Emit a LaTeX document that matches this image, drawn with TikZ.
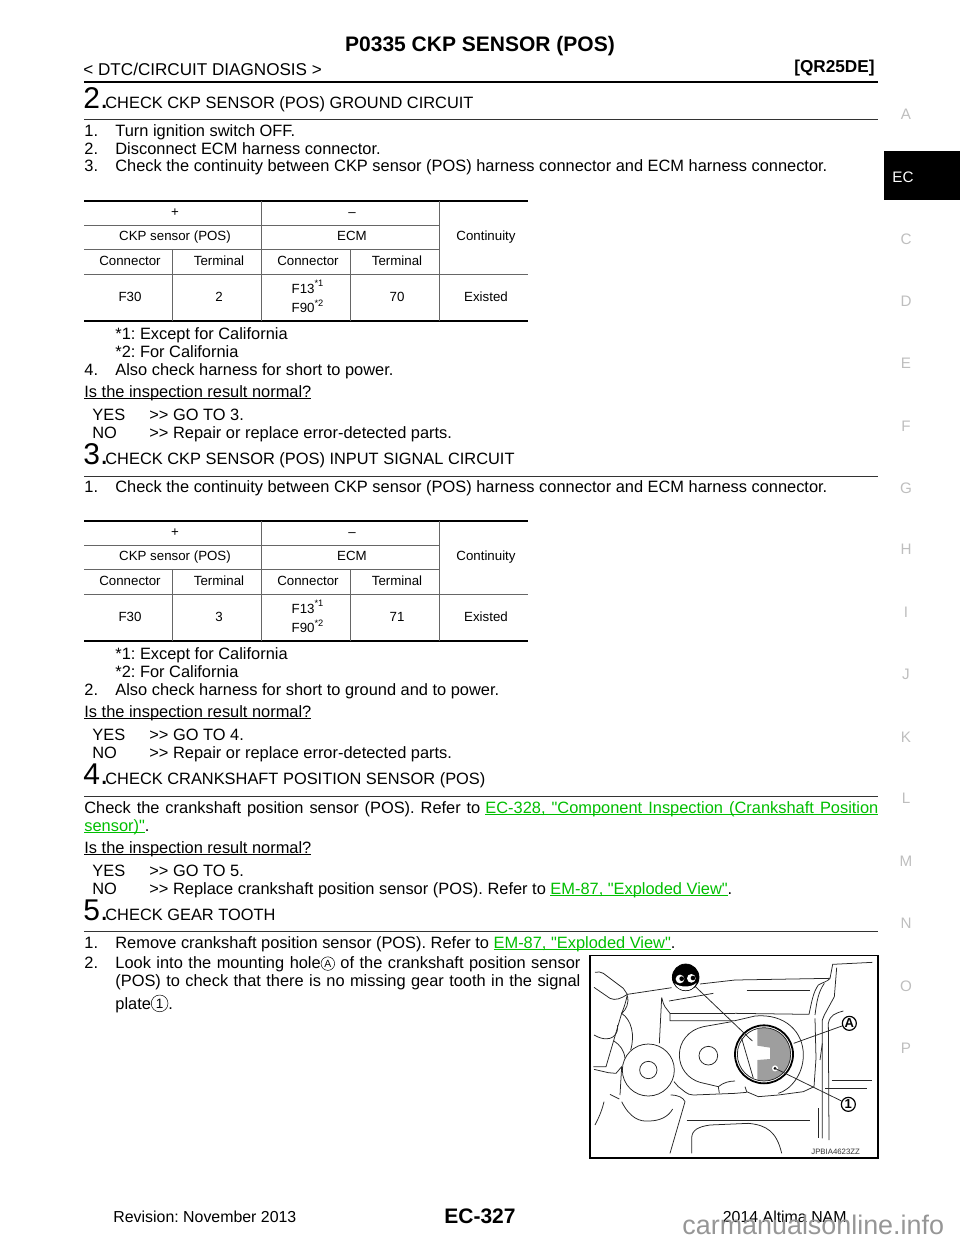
\documentclass[tikz,border=0pt]{standalone}
\usepackage{fontspec}
\setmainfont{Liberation Sans}[Ligatures=TeXOff]
\usetikzlibrary{positioning}
\definecolor{linkgreen}{RGB}{0,190,0}
\definecolor{marginletter}{RGB}{190,190,190}
\definecolor{webmark}{RGB}{150,150,150}
\tikzset{
  bodytext/.style={inner sep=0pt,anchor=base west,font=\fontsize{8.2}{9}\selectfont},
  celltext/.style={inner sep=0pt,anchor=base,font=\fontsize{6.65}{7.5}\selectfont},
  stepnum/.style={inner sep=0pt,anchor=base west,font=\fontsize{15}{15}\selectfont},
  steprule/.style={line width=0.5pt,black!80},
  thickrule/.style={line width=1pt},
  gridline/.style={line width=0.3pt,black!60},
  sketch/.style={line width=0.38pt,black!85},
  callout/.style={circle,draw,line width=0.6pt,fill=white,inner sep=0pt,minimum size=7pt,font=\fontsize{6.5}{7}\selectfont\bfseries},
  inlinemark/.style={circle,draw,anchor=center,line width=0.25pt,inner sep=0pt},
}
\newcommand{\undertext}[1]{\setbox0=\hbox{#1}\rlap{\rule[-0.75pt]{\wd0}{0.38pt}}\box0}
\newcommand{\linktext}[1]{\textcolor{linkgreen}{\undertext{#1}}}
\newcommand{\fitline}[2]{\makebox[#1][s]{#2}}
% continuity table, top left corner at (84,#1)
\newcommand{\contable}[5]{%
  \begin{scope}[yshift=-#1*0.5pt]
    \draw[thickrule] (84,0) -- (528,0);
    \draw[thickrule] (84,120) -- (528,120);
    \draw[gridline] (84,24) -- (439,24);
    \draw[gridline] (84,48) -- (439,48);
    \draw[gridline] (84,73) -- (528,73);
    \draw[gridline] (261,0) -- (261,120);
    \draw[gridline] (439,0) -- (439,120);
    \draw[gridline] (172,48) -- (172,120);
    \draw[gridline] (350,48) -- (350,120);
    \node[celltext] (#2plus) at (175,15) {+};
    \node[celltext] (#2minus) at (352,15) {\textendash};
    \node[celltext] (#2sensor) at (175,39) {CKP sensor (POS)};
    \node[celltext] (#2ecm) at (352,39) {ECM};
    \node[celltext] (#2cont) at (486,39) {Continuity};
    \node[celltext] (#2conna) at (130,64) {Connector};
    \node[celltext] (#2terma) at (219,64) {Terminal};
    \node[celltext] (#2connb) at (308,64) {Connector};
    \node[celltext] (#2termb) at (397,64) {Terminal};
    \node[celltext] (#2fthirty) at (130,100) {F30};
    \node[celltext] (#2pin) at (219,100) {#3};
    \node[celltext] (#2fthirteen) at (308,92) {F13\textsuperscript{*1}};
    \node[celltext] (#2fninety) at (308,111.5) {F90\textsuperscript{*2}};
    \node[celltext] (#2ecmpin) at (397,100) {#4};
    \node[celltext] (#2existed) at (486,100) {#5};
  \end{scope}}
\begin{document}
\frenchspacing
\begin{tikzpicture}[x=0.5pt,y=-0.5pt]
  \useasboundingbox (0,0) rectangle (960,1242);
  % page head
  \node[inner sep=0pt,anchor=base,font=\fontsize{10.5}{12}\selectfont\bfseries] (title) at (480,51) {P0335 CKP SENSOR (POS)};
  \node[inner sep=0pt,anchor=base west,font=\fontsize{8.55}{10}\selectfont] (section) at (83,75) {< DTC/CIRCUIT DIAGNOSIS >};
  \node[inner sep=0pt,anchor=base east,font=\fontsize{8.6}{10}\selectfont\bfseries] (engine) at (875,72) {[QR25DE]};
  \draw[line width=1.2pt] (84,82) -- (878,82);
  % margin index
  \fill[black] (884,151) rectangle (960,200);
  \node[inner sep=0pt,anchor=base west,font=\fontsize{7.6}{9}\selectfont,white] (tabec) at (892,182) {EC};
  \foreach \letter/\ypos in {A/119,C/244,D/306,E/368,F/431,G/493,H/554,I/617,J/679,K/742,L/803,M/866,N/928,O/991,P/1053}
    \node[inner sep=0pt,anchor=base,font=\fontsize{7.6}{9}\selectfont,marginletter] (tab\letter) at (906,\ypos) {\letter};

  % step 2
  \node[stepnum] (numtwo) at (83,108) {2.};
  \node[bodytext] (headtwo) at (105,108) {CHECK CKP SENSOR (POS) GROUND CIRCUIT};
  \draw[steprule] (84,119) -- (878,119);
  \node[bodytext] (twoa) at (84,136) {1.};
  \node[bodytext] (twoat) at (115,136) {Turn ignition switch OFF.};
  \node[bodytext] (twob) at (84,154) {2.};
  \node[bodytext] (twobt) at (115,154) {Disconnect ECM harness connector.};
  \node[bodytext] (twoc) at (84,171.5) {3.};
  \node[bodytext] (twoct) at (115,171.5) {Check the continuity between CKP sensor (POS) harness connector and ECM harness connector.};
  \contable{201}{ta}{2}{70}{Existed}
  \node[bodytext] (twonotea) at (115,339) {*1: Except for California};
  \node[bodytext] (twonoteb) at (115,357) {*2: For California};
  \node[bodytext] (twod) at (84,375) {4.};
  \node[bodytext] (twodt) at (115,375) {Also check harness for short to power.};
  \node[bodytext] (twoq) at (84,397.5) {\undertext{Is the inspection result normal?}};
  \node[bodytext] (twoyes) at (92,420) {YES};
  \node[bodytext] (twoyest) at (149,420) {>> GO TO 3.};
  \node[bodytext] (twono) at (92,438) {NO};
  \node[bodytext] (twonot) at (149,438) {>> Repair or replace error-detected parts.};

  % step 3
  \node[stepnum] (numthree) at (83,464) {3.};
  \node[bodytext] (headthree) at (105,464) {CHECK CKP SENSOR (POS) INPUT SIGNAL CIRCUIT};
  \draw[steprule] (84,476) -- (878,476);
  \node[bodytext] (threea) at (84,492) {1.};
  \node[bodytext] (threeat) at (115,492) {Check the continuity between CKP sensor (POS) harness connector and ECM harness connector.};
  \contable{521}{tb}{3}{71}{Existed}
  \node[bodytext] (threenotea) at (115,659) {*1: Except for California};
  \node[bodytext] (threenoteb) at (115,677) {*2: For California};
  \node[bodytext] (threeb) at (84,695) {2.};
  \node[bodytext] (threebt) at (115,695) {Also check harness for short to ground and to power.};
  \node[bodytext] (threeq) at (84,717.5) {\undertext{Is the inspection result normal?}};
  \node[bodytext] (threeyes) at (92,740) {YES};
  \node[bodytext] (threeyest) at (149,740) {>> GO TO 4.};
  \node[bodytext] (threeno) at (92,758.5) {NO};
  \node[bodytext] (threenot) at (149,758.5) {>> Repair or replace error-detected parts.};

  % step 4
  \node[stepnum] (numfour) at (83,784) {4.};
  \node[bodytext] (headfour) at (105,784) {CHECK CRANKSHAFT POSITION SENSOR (POS)};
  \draw[steprule] (84,796) -- (878,796);
  \node[bodytext] (fourt) at (84,813) {\fitline{198pt}{Check the crankshaft position sensor (POS). Refer to}};
  \node[bodytext] (fourl) at (485,813) {\linktext{\fitline{196.5pt}{EC-328, "Component Inspection (Crankshaft Position}}};
  \node[bodytext] (fourm) at (84,831) {\linktext{sensor)"}.};
  \node[bodytext] (fourq) at (84,853) {\undertext{Is the inspection result normal?}};
  \node[bodytext] (fouryes) at (92,876) {YES};
  \node[bodytext] (fouryest) at (149,876) {>> GO TO 5.};
  \node[bodytext] (fourno) at (92,894) {NO};
  \node[bodytext] (fournot) at (149,894) {>> Replace crankshaft position sensor (POS). Refer to \linktext{EM-87, "Exploded View"}.};

  % step 5
  \node[stepnum] (numfive) at (83,920) {5.};
  \node[bodytext] (headfive) at (105,920) {CHECK GEAR TOOTH};
  \draw[steprule] (84,931) -- (878,931);
  \node[bodytext] (fivea) at (84,948) {1.};
  \node[bodytext] (fiveat) at (115,948) {Remove crankshaft position sensor (POS). Refer to \linktext{EM-87, "Exploded View"}.};
  \node[bodytext] (fiveb) at (84,968) {2.};
  \node[bodytext] (fivebt) at (115,968) {\fitline{232.5pt}{Look into the mounting hole\tikz[baseline=-2.2pt]\node[inlinemark,minimum size=6.8pt,font=\fontsize{5.2}{5}\selectfont]{A};\ of the crankshaft position sensor}};
  \node[bodytext] (fivec) at (115,986) {\fitline{232.5pt}{(POS) to check that there is no missing gear tooth in the signal}};
  \node[bodytext] (fived) at (115,1009) {plate\tikz[baseline=-2.8pt]\node[inlinemark,minimum size=8.4pt,font=\fontsize{6.8}{6}\selectfont]{1};.};

  % figure frame
  \draw[line width=0.7pt] (590,955.5) rectangle (878,1158);

  % figure, left half, 3x crop units
  \begin{scope}[x=0.16667pt,y=-0.16667pt,xshift=295pt,yshift=-477.5pt]
    \draw[sketch] (15,52) .. controls (25,50) and (32,50) .. (40,55) -- (100,100) -- (112,118) .. controls (95,130) and (75,138) .. (60,130) -- (12,97);
    \draw[sketch] (112,118) -- (245,98);
    \draw[sketch] (330,87) -- (435,75);
    \draw[sketch] (237,138) -- (370,115);
    \draw[sketch] (215,128) -- (220,145) .. controls (225,160) and (235,165) .. (240,175) -- (240,197) -- (435,197);
    \draw[sketch] (240,175) -- (435,175);
    \draw[sketch] (215,128) -- (208,265);
    % mounting plate
    \draw[sketch] (425,200) -- (340,215) .. controls (295,225) and (268,260) .. (268,300) .. controls (268,340) and (295,372) .. (330,382) -- (385,395) -- (388,415);
    \draw[sketch] (385,395) .. controls (400,382) and (420,378) .. (435,378);
    \draw[sketch] (252,380) -- (265,395) .. controls (280,405) and (290,420) .. (310,420) -- (435,415);
    \draw[sketch] (175,345) circle (78);
    \draw[sketch] (175,345) circle (26);
    \draw[sketch] (355,302) circle (28);
    % fender side
    \draw[sketch] (112,118) .. controls (108,140) and (103,155) .. (95,175) -- (70,260) -- (48,335) -- (10,335);
    \draw[sketch] (112,122) .. controls (118,145) and (108,165) .. (95,175) .. controls (125,195) and (135,240) .. (122,285);
    \draw[sketch] (82,210) .. controls (88,235) and (65,270) .. (12,240);
    \draw[sketch] (72,258) .. controls (90,270) and (102,285) .. (105,310);
    \draw[sketch] (12,343) -- (55,353) -- (78,355) -- (95,335) -- (90,420);
    \draw[sketch] (60,418) -- (88,432);
    \draw[sketch] (42,440) .. controls (35,470) and (25,490) .. (15,510);
    \draw[sketch] (95,440) .. controls (120,490) and (150,500) .. (175,498) .. controls (210,498) and (235,485) .. (248,462);
    \draw[sketch] (242,420) .. controls (265,420) and (280,428) .. (285,440) -- (240,595);
    % lower recess
    \draw[sketch] (290,497) -- (660,497);
    \draw[sketch] (305,595) -- (305,550) .. controls (305,525) and (325,515) .. (360,510) -- (475,505) .. controls (530,510) and (560,530) .. (575,595);
    % viewing symbol
    \node[circle,draw,line width=0.4pt,fill=black,minimum size=13.3pt,inner sep=0pt] (eyesym) at (287,67) {};
    \fill[white] (254,85) .. controls (270,98) and (305,98) .. (320,83) .. controls (312,100) and (300,106) .. (287,106) .. controls (272,106) and (260,98) .. (254,85) -- cycle;
    \fill[white] (270,72) circle (13) (304,70) circle (13);
    \fill[black] (275,71) circle (7) (309,69) circle (7);
  \end{scope}

  % figure, right half, 3x crop units
  \begin{scope}[x=0.16667pt,y=-0.16667pt,xshift=367.5pt,yshift=-477.5pt]
    \draw[sketch] (0,75) -- (285,70) -- (293,28) -- (412,22);
    \draw[sketch] (35,105) -- (225,105);
    \draw[sketch] (0,175) -- (222,178) .. controls (230,140) and (235,110) .. (250,90) .. controls (262,82) and (278,80) .. (285,70);
    \draw[sketch] (240,180) .. controls (245,140) and (250,110) .. (268,85);
    \draw[sketch] (305,38) -- (298,125) -- (268,180) -- (262,195) -- (262,550);
    \draw[sketch] (325,168) .. controls (300,175) and (285,180) .. (280,205) -- (282,555);
    \draw[sketch] (290,375) -- (410,375);
    \draw[sketch] (270,400) -- (395,400);
    \draw[sketch] (250,460) -- (250,550);
    \draw[sketch] (262,265) -- (255,315);
    \draw[sketch] (240,190) -- (243,310) -- (237,395) -- (205,410) -- (130,420);
    % boss round the hole
    \draw[sketch] (0,197) -- (60,183) .. controls (150,175) and (205,230) .. (205,300) .. controls (205,360) and (165,405) .. (130,415);
    \draw[sketch] (30,395) -- (35,410) -- (70,425) -- (130,420);
    \draw[sketch] (0,415) -- (35,412);
    % signal plate
    \begin{scope}
      \clip (87,298) circle (80);
      \fill[black!38] (67,210) -- (67,272) -- (105,278) -- (105,312) -- (67,315) -- (67,390) -- (180,390) -- (180,210) -- cycle;
    \end{scope}
    \draw[line width=0.9pt] (87,298) circle (87);
    \draw[sketch] (87,298) circle (80);
    \draw[sketch] (20,250) -- (55,370);
    % callouts
    \fill[white] (120,340) circle (9);
    \fill[black] (120,340) circle (4.5);
    \node[callout] (calla) at (343,205) {A};
    \node[callout] (callb) at (340,448) {1};
    \coordinate (holeend) at (52,258);
    \coordinate (holeedge) at (176,265);
    \coordinate (platedot) at (120,340);
    \draw[sketch] (eyesym) -- (holeend);
    \draw[sketch] (calla) -- (holeedge);
    \draw[sketch] (callb) -- (platedot);
    \node[inner sep=0pt,anchor=base east,font=\fontsize{3.9}{5}\selectfont,black!80] (figcode) at (376,598) {JPBIA4623ZZ};
  \end{scope}

  % page foot
  \node[inner sep=0pt,anchor=base west,font=\fontsize{7.95}{9}\selectfont] (revision) at (113,1222) {Revision: November 2013};
  \node[inner sep=0pt,anchor=base,font=\fontsize{10.5}{12}\selectfont\bfseries] (pagenum) at (480,1223) {EC-327};
  \node[inner sep=0pt,anchor=base east,font=\fontsize{7.95}{9}\selectfont] (model) at (847,1222) {2014 Altima NAM};
  \node[inner sep=0pt,anchor=base west,font=\fontsize{13.45}{14}\selectfont,webmark] (webmark) at (682,1234) {carmanualsonline.info};
\end{tikzpicture}
\end{document}
